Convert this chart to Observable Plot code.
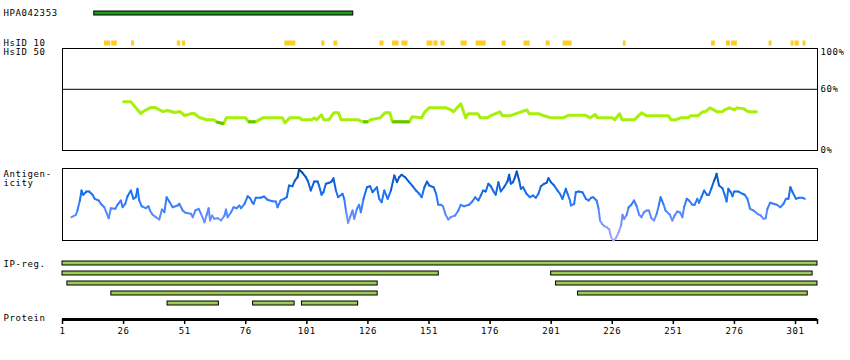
<!DOCTYPE html>
<html><head><meta charset="utf-8">
<script src="https://cdn.jsdelivr.net/npm/d3@7"></script>
<script src="https://cdn.jsdelivr.net/npm/@observablehq/plot@0.6"></script>
<style>
body{margin:0;background:#fff;}
#chart svg{display:block;}
</style></head><body><div id="chart"></div>
<script>
// ---------- data ----------
const proteinLength = 310;
const antibodyName = "HPA042353";
const antibodySpan = [14, 120];

// HsID 10 identity hits (start, end residue)
const hsid10Start = [18.2,21.1,29.3,48.0,50.1,92.0,107.1,112.1,130.9,136.1,139.9,150.2,153.0,155.9,164.1,170.3,180.9,189.9,198.9,205.9,230.5,266.6,272.7,274.8,290.2,299.2,300.8,304.1];
const hsid10End   = [20.7,23.4,30.5,49.4,51.4,96.5,108.4,113.7,132.6,138.7,142.4,152.6,154.7,157.6,166.6,174.4,182.6,192.4,200.6,209.6,231.7,268.2,274.4,277.2,291.4,300.4,302.5,305.3];

// HsID 50 identity (residue, percent)
const hsid50 = [[26,47.7],[29,47.7],[33,36.3],[34,38.2],[37,42.1],[39,42.1],[42,38.2],[44,39.2],[47,37.2],[49,38.2],[51,34.3],[54,36.3],[55,36.3],[57,32.3],[60,30.1],[63,30.1],[64,28.1],[67,26.2],[68,32],[76,32],[77,28.1],[80,28.1],[83,32],[91,32],[92,27.1],[94,32],[98,32],[99,30.1],[103,30.1],[104,32],[105,30.1],[107,35],[108,30.1],[110,30.1],[112,36.9],[114,36.9],[115,30.1],[122,30.1],[124,28.1],[126,28.1],[127,30.1],[131,32],[133,36.9],[135,36.9],[136,28.1],[143,28.1],[144,33],[148,32],[149,36.9],[151,41.8],[158,41.8],[160,39.9],[161,37.9],[164,45.8],[166,32],[167,36],[171,36],[172,32],[175,32],[176,34],[180,37.9],[181,34],[184,34],[191,39.9],[192,36],[196,36],[198,34],[201,32],[206,32],[208,34.6],[215,34.6],[217,32],[219,35.3],[220,32],[226,32],[227,30.1],[229,36],[230,30.1],[235,30.1],[238,36.9],[240,34],[249,34],[250,30.1],[252,30.1],[254,32],[257,32],[258,34],[261,34],[263,37.9],[264,37.9],[266,41.8],[269,37.9],[271,37.9],[272,39.9],[274,41.8],[276,39.9],[277,41.8],[280,40.9],[281,38.9],[282,37.9],[285,37.9]];

// Antigenicity (residue, relative score 0-100)
const antigenicity = [[4.7,32.4],[6.5,35.7],[7.1,41.7],[8.1,55.6],[8.8,69.4],[9.5,63.5],[10.8,68.1],[11.9,68.1],[13.3,63.5],[14.2,57.9],[15.8,55.6],[16.7,51.0],[18.1,46.2],[19.9,31.0],[20.8,44.9],[22.6,44.0],[23.5,49.6],[24.9,55.6],[25.6,46.2],[26.7,51.0],[27.6,61.5],[29.0,69.4],[30.0,57.9],[31.0,60.1],[31.7,71.8],[32.4,55.6],[33.4,47.6],[35.1,44.9],[36.2,47.6],[36.8,41.7],[37.9,35.7],[39.2,32.4],[40.6,29.2],[41.7,43.1],[42.7,39.3],[43.6,60.1],[44.7,54.2],[46.1,46.2],[48.1,48.6],[48.8,51.0],[50.2,41.7],[51.3,38.5],[53.6,37.1],[54.3,32.4],[55.4,41.7],[56.7,44.0],[57.7,37.1],[59.1,25.4],[60.0,35.7],[60.8,44.9],[61.4,27.8],[62.2,34.7],[63.2,30.1],[64.5,31.0],[65.9,27.8],[67.3,34.7],[67.9,43.1],[68.6,32.4],[70.0,39.3],[71.0,46.2],[72.3,44.9],[73.4,48.6],[74.1,44.9],[75.5,51.0],[76.8,61.5],[77.8,58.8],[78.6,53.2],
[79.2,51.0],[80.1,59.3],[82.1,59.3],[83.5,61.1],[84.9,56.5],[86.9,54.6],[88.3,54.2],[89.0,46.2],[90.3,55.6],[91.7,57.9],[92.8,60.1],[93.7,76.4],[95.1,75.4],[96.1,83.3],[97.2,87.9],[97.8,98.6],[99.2,94.0],[100.6,87.9],[101.5,81.9],[102.6,69.4],[104.0,81.9],[105.4,81.9],[106.0,76.4],[107.0,63.5],[107.8,67.1],[108.8,78.8],[110.1,80.1],[111.1,81.9],[111.9,86.5],[112.9,69.4],[113.8,60.1],[115.6,64.9],[116.3,57.9],[117.0,41.7],[117.9,24.6],[118.7,32.4],[119.7,41.7],[120.4,30.1],[121.5,44.0],[122.4,49.6],[123.1,39.3],[124.2,57.9],[125.6,74.0],[126.9,75.4],[127.9,67.1],[129.7,74.0],[130.6,57.9],[131.6,53.2],[132.7,69.4],[134.1,57.9],[135.4,69.4],[136.8,90.3],[137.9,81.0],[138.8,87.9],[139.8,91.3],[141.2,87.9],[142.9,81.0],[144.3,75.4],[145.7,69.4],[147.0,64.9],[148.0,60.1],[149.1,74.0],[150.2,81.9],[151.1,76.4],[152.9,74.0],[153.9,64.9],[154.8,49.6],[155.9,49.6],
[156.7,47.6],[157.8,35.7],[158.9,29.2],[159.9,32.4],[161.7,34.7],[163.0,41.7],[164.0,49.6],[165.3,47.6],[167.4,49.6],[168.7,54.2],[169.9,60.1],[171.2,55.6],[172.2,62.5],[173.1,69.4],[174.2,68.1],[175.3,78.8],[176.3,75.4],[177.6,67.1],[178.3,63.5],[179.4,81.0],[180.4,68.1],[181.7,74.0],[183.1,81.9],[183.8,91.3],[184.5,78.8],[185.4,81.0],[186.2,87.9],[186.9,95.8],[187.9,83.3],[188.6,71.8],[189.5,74.0],[190.9,64.9],[192.3,60.1],[193.6,62.5],[194.7,59.3],[195.8,64.9],[196.8,75.4],[198.1,78.8],[199.1,80.1],[199.9,86.5],[200.9,81.0],[202.2,76.4],[203.6,69.4],[204.6,64.9],[205.6,57.9],[207.0,71.8],[207.7,64.9],[208.7,55.6],[209.1,48.6],[210.4,51.0],[211.1,67.1],[212.2,68.1],[213.8,67.1],[215.2,57.9],[216.3,55.6],[217.3,59.3],[218.2,60.1],[219.6,55.6],[220.4,44.0],[221.0,27.8],[221.8,23.2],[222.7,19.9],[223.7,18.5],[224.8,15.3],[225.5,4.6],[226.4,0],[227.5,3.2],[228.6,11.5],[229.6,20.8],[230.2,35.7],[230.9,30.1],[231.9,35.7],[232.7,46.2],
[233.8,49.6],[234.9,55.6],[236.0,47.6],[237.0,35.7],[237.9,32.4],[239.0,39.3],[240.1,41.7],[241.0,41.7],[242.0,31.0],[243.1,27.8],[244.2,37.1],[245.1,49.6],[245.8,60.1],[246.9,51.0],[247.8,41.7],[249.6,35.7],[250.6,27.8],[251.5,34.7],[252.6,40.3],[253.7,39.3],[254.7,32.4],[255.4,46.2],[256.5,57.9],[257.4,55.6],[258.8,49.6],[259.7,49.6],[260.8,57.9],[261.5,52.4],[262.5,60.1],[263.6,69.4],[264.7,63.5],[265.6,63.5],[266.6,72.6],[267.7,83.3],[268.3,87.9],[268.7,92.6],[269.7,76.4],[271.1,72.6],[272.0,63.5],[272.8,54.2],[273.5,71.8],[274.5,67.1],[275.2,61.5],[275.9,68.1],[277.5,68.1],[279.3,64.9],[280.2,63.5],[281.3,57.9],[282.4,44.0],[283.8,41.7],[285.4,37.1],[286.8,34.7],[287.9,30.1],[288.8,31.0],[289.5,44.0],[290.6,52.4],[292.0,51.0],[293.4,49.6],[294.8,46.2],[296.1,51.0],[297.1,57.9],[298.1,57.9],[298.9,74.0],[299.8,67.1],[301.2,57.9],[302.5,59.3],[303.9,59.3],[304.8,57.9]];

// IP-reg. regions (row, start, end)
const ipRow   = [1, 2, 2, 3, 3, 4, 4, 5, 5, 5];
const ipStart = [1, 1, 201, 3, 203, 21, 212, 44, 79, 99];
const ipEnd   = [310, 155, 308, 130, 310, 130, 306, 65, 96, 122];

const tickValues = [1, 26, 51, 76, 101, 126, 151, 176, 201, 226, 251, 276, 301, 310];
const leftLabels = {hsid10: "HsID 10", hsid50: "HsID 50", anti: "Antigen-\nicity", ip: "IP-reg.", protein: "Protein"};

// ---------- layout ----------
const W = 850, ML = 62, MR = 33;
const font = "'DejaVu Sans Mono', monospace";
const style = {fontFamily: font, fontSize: "9px", letterSpacing: "0.6px", color: "black", background: "white", overflow: "visible"};
const xOpt = {domain: [1, proteinLength], axis: null};
const root = document.getElementById("chart");

// Panel A: antibody bar + HsID 10
const rowsTop = [antibodyName, leftLabels.hsid10];
const hs10 = hsid10Start.map((s, i) => ({s, e: hsid10End[i]}));
root.append(Plot.plot({
  width: W, height: 46, marginLeft: ML, marginRight: MR, marginTop: 0, marginBottom: 0, style,
  x: xOpt,
  y: {type: "band", domain: rowsTop, range: [-2.5, 57.5], padding: 0, axis: null},
  marks: [
    Plot.barX([{s: antibodySpan[0], e: antibodySpan[1]}], {x1: "s", x2: "e", y: () => antibodyName, fill: "#1e9b1e", stroke: "black", strokeWidth: 1, insetTop: 13, insetBottom: 13}),
    Plot.barX(hs10, {x1: "s", x2: "e", y: () => leftLabels.hsid10, fill: "#ffcc22", insetTop: 12.5, insetBottom: 12.5}),
    Plot.text(rowsTop, {y: d => d, text: d => d, frameAnchor: "left", dx: -59, textAnchor: "start", fill: "black"})
  ]
}));

// Panel B: HsID 50
const hsDark = [];
for (let i = 1; i < hsid50.length; i++) {
  const a = hsid50[i - 1], b = hsid50[i];
  if (a[1] < 29 && b[1] < 29) hsDark.push({x1: a[0], y1: a[1], x2: b[0], y2: b[1]});
}
root.append(Plot.plot({
  width: W, height: 112, marginLeft: ML, marginRight: MR, marginTop: 2, marginBottom: 8, style,
  x: xOpt, y: {domain: [0, 100], axis: null},
  marks: [
    Plot.frame({stroke: "black"}),
    Plot.ruleY([60], {stroke: "black"}),
    Plot.line(hsid50, {x: d => d[0], y: d => d[1], stroke: "#a6f00a", strokeWidth: 3}),
    Plot.link(hsDark, {x1: "x1", y1: "y1", x2: "x2", y2: "y2", stroke: "#62c400", strokeWidth: 3}),
    Plot.text(["100%"], {frameAnchor: "top-right", dx: 3, textAnchor: "start", lineAnchor: "top", fill: "black"}),
    Plot.text([60, 0], {y: d => d, text: d => d + "%", frameAnchor: "right", dx: 3, textAnchor: "start", fill: "black"}),
    Plot.text([leftLabels.hsid50], {frameAnchor: "top-left", dx: -59, dy: 0.5, textAnchor: "start", lineAnchor: "top", fill: "black"})
  ]
}));

// Panel C: Antigenicity
const antiSegs = [];
for (let i = 1; i < antigenicity.length; i++) {
  const a = antigenicity[i - 1], b = antigenicity[i];
  antiSegs.push({x1: a[0], y1: a[1], x2: b[0], y2: b[1], v: (a[1] + b[1]) / 2});
}
root.append(Plot.plot({
  width: W, height: 92, marginLeft: ML, marginRight: MR, marginTop: 10, marginBottom: 10, style,
  x: xOpt, y: {domain: [0, 100], axis: null},
  color: {type: "linear", domain: [0, 20, 40, 65, 100], range: ["#b0a8ff", "#8a96ff", "#4d86ff", "#1870f2", "#0048b0"]},
  marks: [
    Plot.frame({stroke: "black"}),
    Plot.link(antiSegs, {x1: "x1", y1: "y1", x2: "x2", y2: "y2", stroke: "v", strokeWidth: 2, strokeLinecap: "round"}),
    Plot.text([leftLabels.anti], {frameAnchor: "top-left", dx: -59, dy: 1, textAnchor: "start", lineAnchor: "top", lineHeight: 1.1, fill: "black"})
  ]
}));

// Panel D: IP-reg.
const ipData = ipRow.map((r, i) => ({r, s: ipStart[i], e: ipEnd[i]}));
root.append(Plot.plot({
  width: W, height: 60, marginLeft: ML, marginRight: MR, marginTop: 8, marginBottom: 2, style,
  x: xOpt,
  y: {type: "band", domain: [1, 2, 3, 4, 5], range: [8, 58], padding: 0, axis: null},
  marks: [
    Plot.barX(ipData, {x1: "s", x2: "e", y: "r", fill: "#9ccb55", stroke: "black", strokeWidth: 1, insetTop: 3, insetBottom: 3}),
    Plot.text([leftLabels.ip], {y: () => 1, frameAnchor: "left", dx: -59, dy: 1, textAnchor: "start", fill: "black"})
  ]
}));

// Panel E: Protein axis
const axisMarks = Plot.axisX
  ? [Plot.axisX(tickValues, {anchor: "bottom", tickSize: 5, tickPadding: 3, strokeWidth: 1.5, label: null, tickFormat: d => d === proteinLength ? "" : String(d), fill: "black"})]
  : [];
root.append(Plot.plot({
  width: W, height: 50, marginLeft: ML, marginRight: MR, marginTop: 8, marginBottom: 41, style,
  x: Plot.axisX ? {domain: [1, proteinLength]} : {domain: [1, proteinLength], ticks: tickValues, tickSize: 5, tickPadding: 3, tickFormat: d => d === proteinLength ? "" : String(d), label: null},
  y: {domain: [0, 1], axis: null},
  marks: [
    Plot.ruleY([0], {x1: 1, x2: proteinLength, stroke: "black", strokeWidth: 3}),
    ...axisMarks,
    Plot.text([leftLabels.protein], {frameAnchor: "bottom-left", dx: -59, dy: 1, textAnchor: "start", fill: "black"})
  ]
}));
</script></body></html>
